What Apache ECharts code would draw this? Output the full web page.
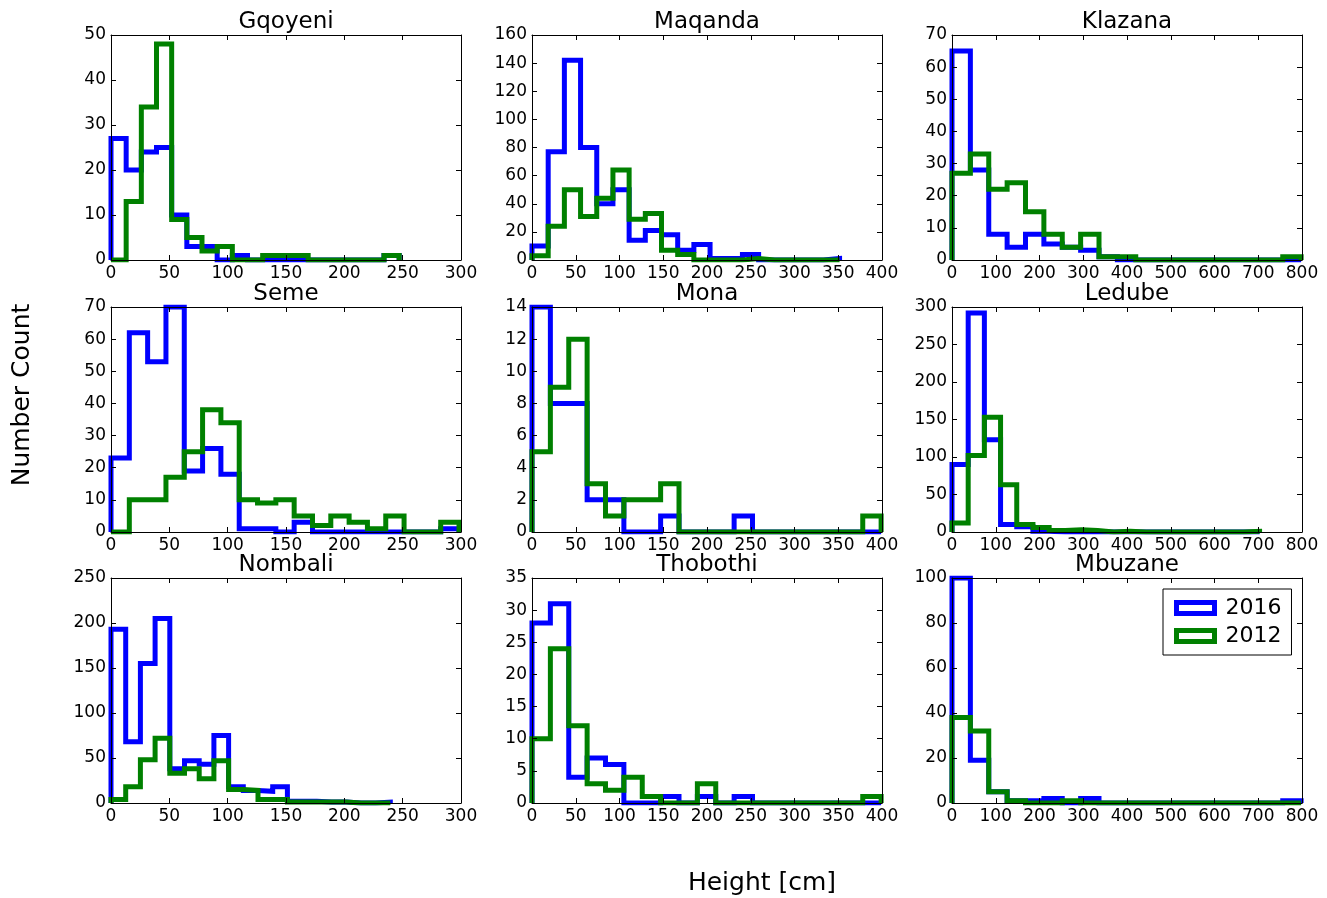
<!DOCTYPE html>
<html>
<head>
<meta charset="utf-8">
<script src="https://cdn.jsdelivr.net/npm/echarts@6/dist/echarts.min.js"></script>
<style>
  html, body { margin: 0; background: #fff; }
  #chart { width: 1327px; height: 898px; }
</style>
</head>
<body>
<div id="chart"></div>
<script>
// one panel per station, read row by row
const stations = ["Gqoyeni", "Maqanda", "Klazana", "Seme", "Mona", "Ledube", "Nombali", "Thobothi", "Mbuzane"];

// histogram range per panel (19 equal bins between lo and hi, cm)
const binLo = [0, 0, 0, 0, 0, 0, 0, 0, 0];
const binHi = [247, 351.5, 798, 298.3, 399, 703, 239.4, 399, 798];

// counts per bin
const counts2016 = [
  [27, 20, 24, 25, 10, 3, 3, 0, 1, 0, 0, 0, 0, 0, 0, 0, 0, 0, 1],
  [10, 77, 142, 80, 40, 50, 14, 21, 18, 7, 11, 1, 1, 4, 0, 0, 0, 0, 1],
  [65, 28, 8, 4, 8, 5, 4, 3, 1, 0, 0, 0, 0, 0, 0, 0, 0, 0, 0],
  [23, 62, 53, 70, 19, 26, 18, 1, 1, 0, 3, 0, 0, 0, 0, 0, 0, 0, 1],
  [14, 8, 8, 2, 2, 0, 0, 1, 0, 0, 0, 1, 0, 0, 0, 0, 0, 0, 0],
  [90, 292, 123, 10, 7, 1, 0, 0, 0, 0, 0, 0, 0, 0, 0, 0, 0, 0, 0],
  [193, 68, 155, 205, 38, 47, 43, 75, 18, 14, 13, 18, 2, 2, 1, 1, 0, 0, 1],
  [28, 31, 4, 7, 6, 0, 0, 1, 0, 1, 0, 1, 0, 0, 0, 0, 0, 0, 0],
  [100, 19, 5, 1, 1, 2, 0, 2, 0, 0, 0, 0, 0, 0, 0, 0, 0, 0, 1]
];
const counts2012 = [
  [0, 13, 34, 48, 9, 5, 2, 3, 0, 0, 1, 1, 1, 0, 0, 0, 0, 0, 1],
  [3, 24, 50, 31, 44, 64, 29, 33, 7, 4, 0, 0, 0, 1, 0, 0, 0, 0, 0],
  [27, 33, 22, 24, 15, 8, 4, 8, 1, 1, 0, 0, 0, 0, 0, 0, 0, 0, 1],
  [0, 10, 10, 17, 25, 38, 34, 10, 9, 10, 5, 2, 5, 3, 1, 5, 0, 0, 3],
  [5, 9, 12, 3, 1, 2, 2, 3, 0, 0, 0, 0, 0, 0, 0, 0, 0, 0, 1],
  [12, 102, 153, 63, 10, 6, 2, 3, 2, 0, 1, 0, 0, 0, 0, 0, 0, 0, 1],
  [4, 18, 48, 72, 33, 38, 27, 47, 15, 14, 4, 4, 1, 1, 1, 1, 0, 0, 0],
  [10, 24, 12, 3, 2, 4, 1, 0, 0, 3, 0, 0, 0, 0, 0, 0, 0, 0, 1],
  [38, 32, 5, 1, 0, 0, 1, 0, 0, 0, 0, 0, 0, 0, 0, 0, 0, 0, 0]
];

// axis ticks
const xMax = [300, 400, 800, 300, 400, 800, 300, 400, 800];
const xStep = [50, 50, 100, 50, 50, 100, 50, 50, 100];
const yMax = [50, 160, 70, 70, 14, 300, 250, 35, 100];
const yStep = [10, 20, 10, 10, 2, 50, 50, 5, 20];

const BLUE = "#0000ff";
const GREEN = "#008000";
const FONT = "DejaVu Sans";
const colLeft = [111, 532, 952];
const rowTop = [35, 307, 578];
const PW = 350, PH = 225;

// step outline like matplotlib histtype='step'
function steps(lo, hi, counts) {
  const w = (hi - lo) / counts.length;
  const pts = [[lo, 0]];
  counts.forEach((c, i) => {
    pts.push([lo + i * w, c], [lo + (i + 1) * w, c]);
  });
  pts.push([hi, 0]);
  return pts;
}

const grid = [], xAxis = [], yAxis = [], series = [], graphic = [];
const tick = { show: true, inside: true, length: 5, lineStyle: { color: "#000", width: 1 } };
const frame = { show: true, onZero: false, lineStyle: { color: "#000", width: 1 } };
const label = { fontFamily: FONT, fontSize: 17, color: "#000" };

stations.forEach((name, i) => {
  const left = colLeft[i % 3], top = rowTop[Math.floor(i / 3)];
  grid.push({ left, top, width: PW, height: PH });

  // axes sit above the lines so the frame stays visible, like the spines
  const xa = { type: "value", gridIndex: i, z: 5, min: 0, max: xMax[i], interval: xStep[i], splitLine: { show: false }, axisLine: frame, axisTick: tick };
  xAxis.push(Object.assign({}, xa, { position: "bottom", axisLabel: Object.assign({ margin: 5 }, label) }));
  xAxis.push(Object.assign({}, xa, { position: "top", axisLabel: { show: false } }));

  const ya = { type: "value", gridIndex: i, z: 5, min: 0, max: yMax[i], interval: yStep[i], splitLine: { show: false }, axisLine: frame, axisTick: tick };
  yAxis.push(Object.assign({}, ya, { position: "left", axisLabel: Object.assign({ margin: 5 }, label) }));
  yAxis.push(Object.assign({}, ya, { position: "right", axisLabel: { show: false } }));

  [["2016", counts2016[i], BLUE], ["2012", counts2012[i], GREEN]].forEach(([year, counts, color]) => {
    series.push({
      name: year,
      type: "line",
      xAxisIndex: 2 * i,
      yAxisIndex: 2 * i,
      data: steps(binLo[i], binHi[i], counts),
      symbol: "none",
      color,
      lineStyle: { color, width: 5, join: "miter" },
      clip: true
    });
  });

  graphic.push({
    type: "text", x: left + PW / 2, y: top - 13,
    style: { text: name, fill: "#000", font: "23px 'DejaVu Sans'", textAlign: "center", textVerticalAlign: "middle" }
  });
});

graphic.push({
  type: "text", x: 762, y: 883,
  style: { text: "Height [cm]", fill: "#000", font: "25px 'DejaVu Sans'", textAlign: "center", textVerticalAlign: "middle" }
});
graphic.push({
  type: "text", x: 22, y: 395, rotation: Math.PI / 2,
  style: { text: "Number Count", fill: "#000", font: "25px 'DejaVu Sans'", textAlign: "center", textVerticalAlign: "middle" }
});

const chart = echarts.init(document.getElementById("chart"));
chart.setOption({
  animation: false,
  backgroundColor: "#fff",
  grid, xAxis, yAxis, series, graphic,
  legend: {
    left: 1163, top: 589,
    orient: "vertical",
    z: 10,
    backgroundColor: "#fff",
    borderColor: "#000",
    borderWidth: 1,
    padding: [8, 10, 8, 11],
    itemGap: 6,
    itemWidth: 38,
    itemHeight: 11,
    textStyle: { fontFamily: FONT, fontSize: 22, color: "#000", padding: [0, 0, 0, 6] },
    data: [
      { name: "2016", icon: "rect", itemStyle: { color: "#fff", borderColor: BLUE, borderWidth: 5 } },
      { name: "2012", icon: "rect", itemStyle: { color: "#fff", borderColor: GREEN, borderWidth: 5 } }
    ]
  }
});
</script>
</body>
</html>
